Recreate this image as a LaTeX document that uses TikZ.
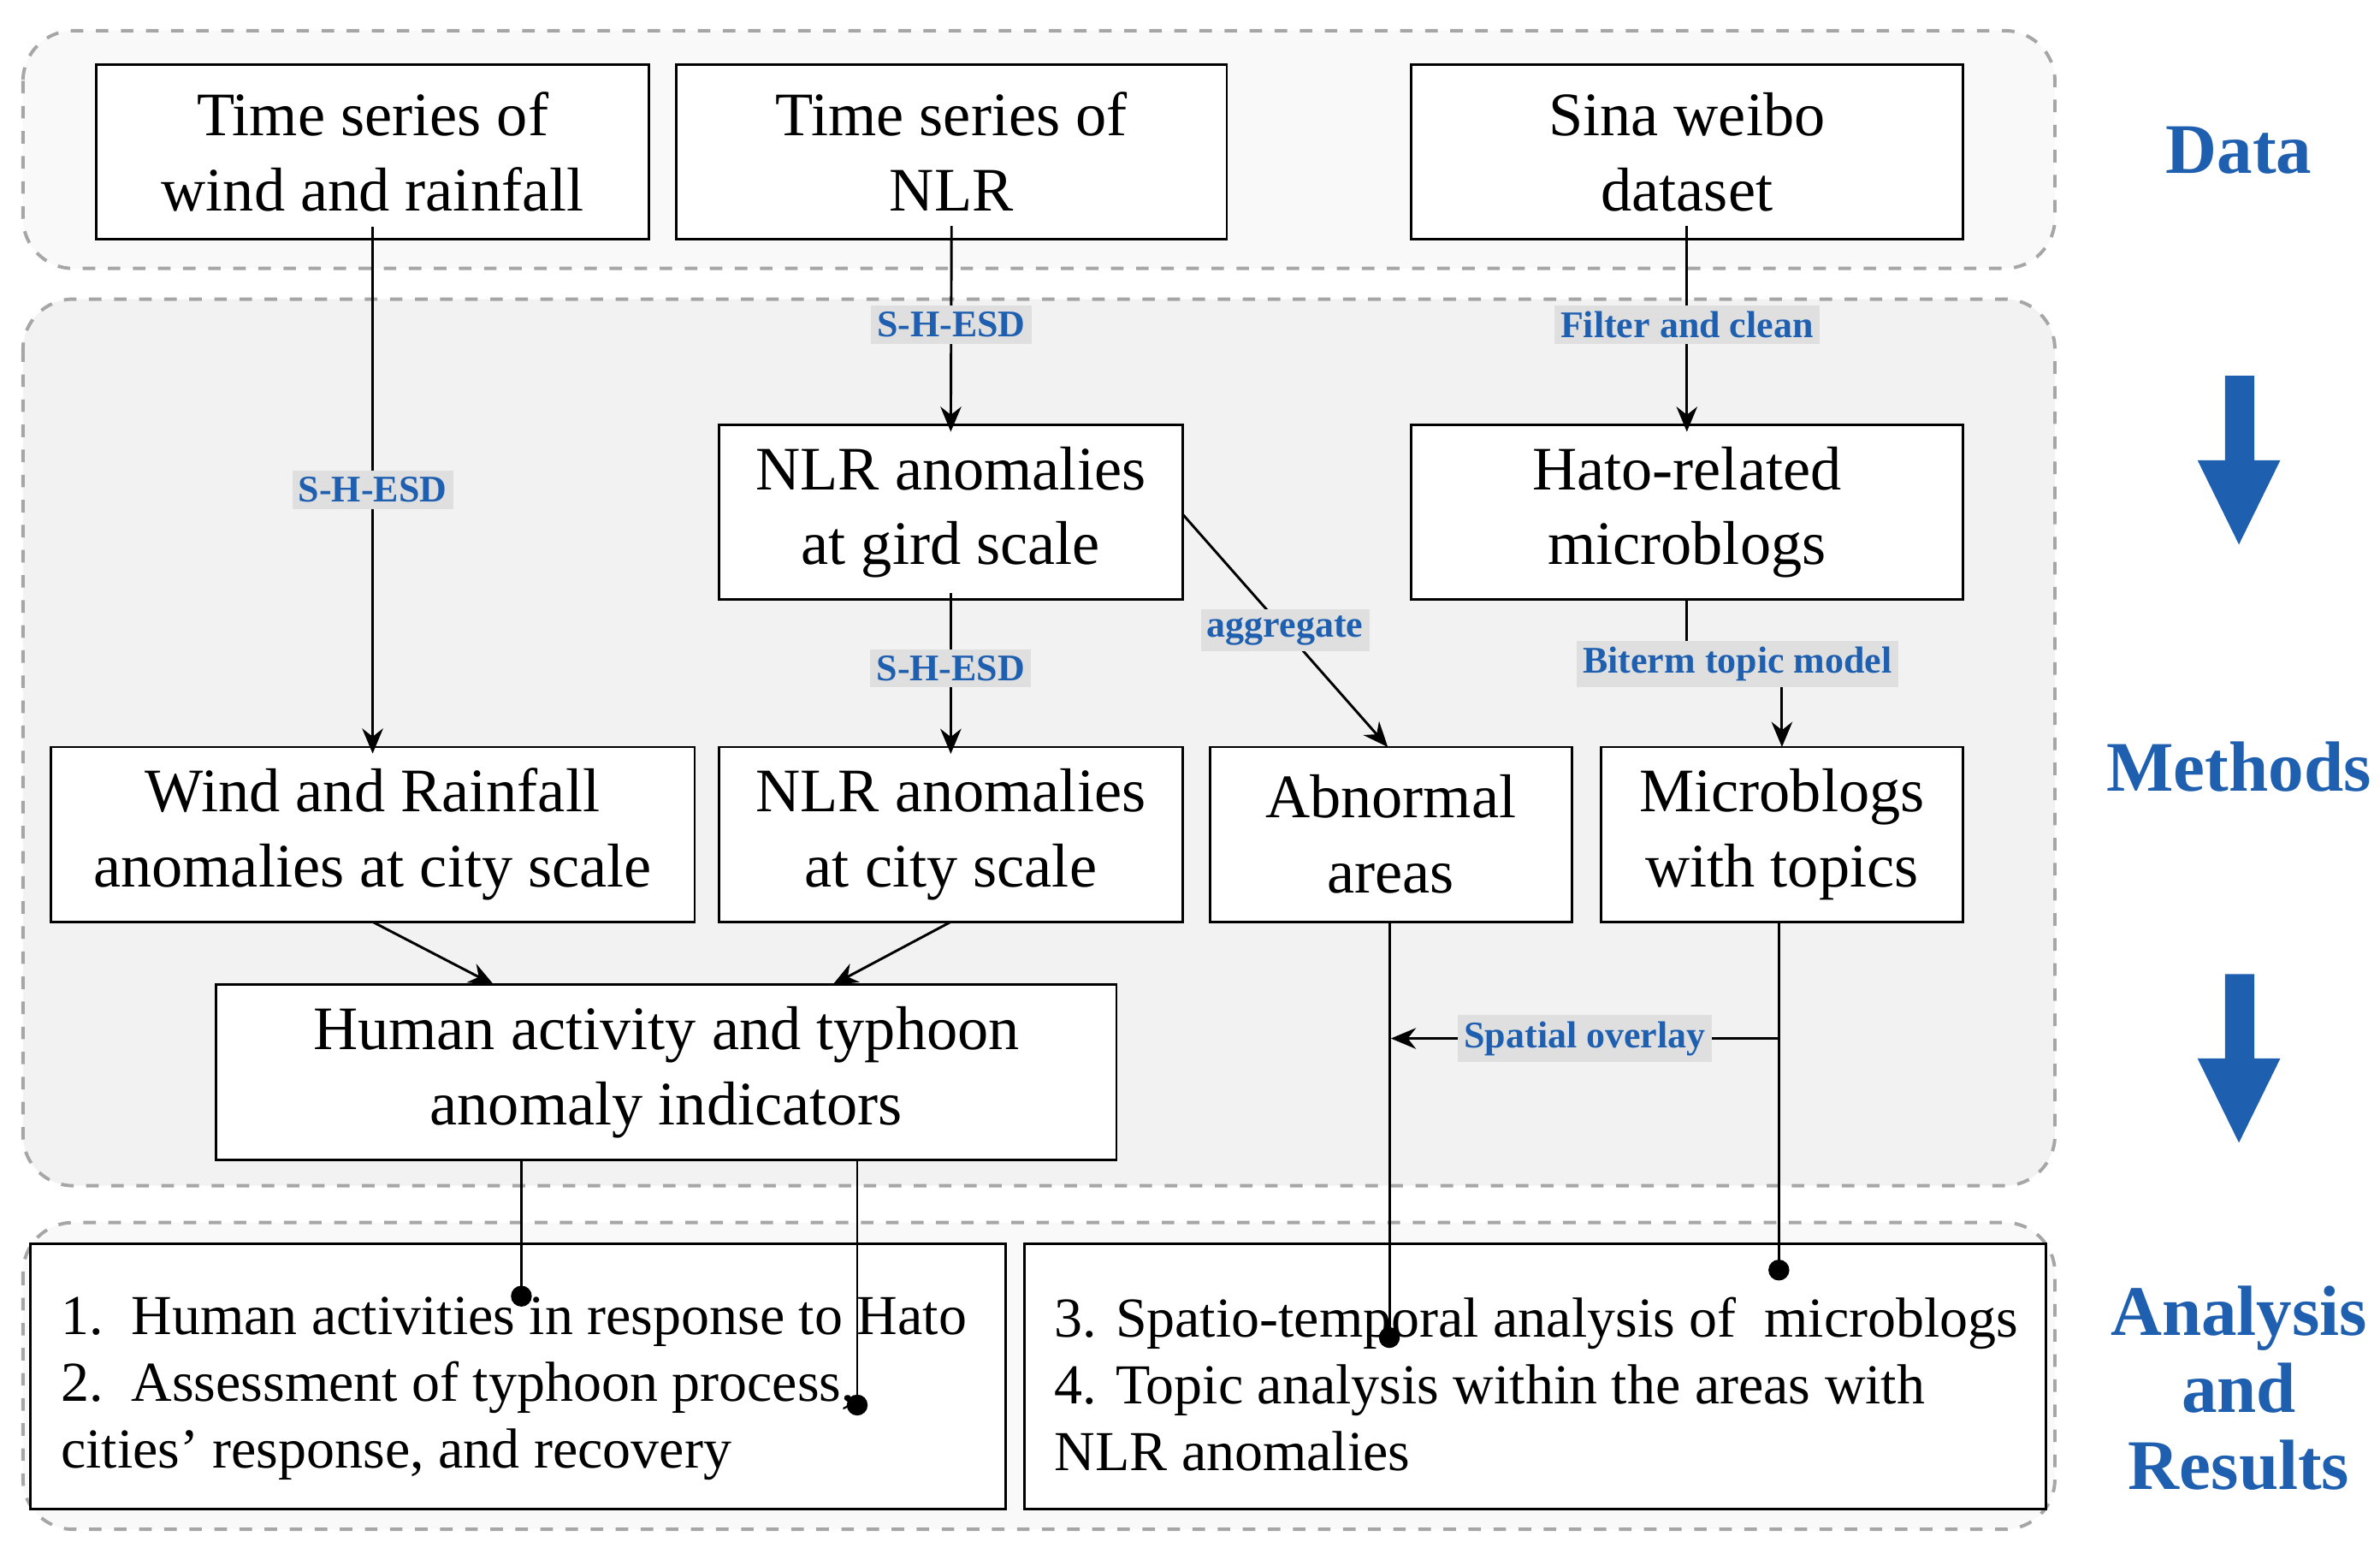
\documentclass[tikz,border=0pt]{standalone}
\usepackage{fontspec}
\setmainfont{Liberation Serif}
\usetikzlibrary{arrows.meta}
\definecolor{myblue}{HTML}{1F5FB0}
\begin{document}
\begin{tikzpicture}[x=0.0129cm,y=-0.0129cm,
 grp/.style={draw=gray!70,dashed,line width=0.8pt,rounded corners=12pt},
 box/.style={draw,line width=0.6pt,fill=white},
 tx/.style={align=center,font=\fontsize{14.8}{18}\selectfont},
 lab/.style={fill=gray!25,text=myblue,font=\bfseries\fontsize{9}{11}\selectfont,inner sep=1.5pt},
 ar/.style={-{Stealth[length=6pt,width=5pt]},line width=0.6pt},
 ln/.style={line width=0.6pt},
 dot/.style={circle,fill,inner sep=0pt,minimum size=5pt},
 side/.style={text=myblue,font=\bfseries\fontsize{17}{18.5}\selectfont,align=center},
 big/.style={fill=myblue,draw=none}]
\useasboundingbox (0,0) rectangle (1552,1005);
\draw[grp,fill=gray!5] (15,20) rectangle (1340,175);
\draw[grp,fill=gray!10] (15,195) rectangle (1340,773);
\draw[grp,fill=gray!5] (15,797) rectangle (1340,997);
\newcommand{\bx}[6]{\draw[box] (#2,#3) rectangle (#4,#5); \node[tx] (#1) at ({(#2+#4)/2},{(#3+#5)/2}) {#6};}
\bx{A}{63}{42}{423}{156}{Time series of\\wind and rainfall}
\bx{B}{441}{42}{800}{156}{Time series of\\NLR}
\bx{C}{920}{42}{1280}{156}{Sina weibo\\dataset}
\bx{D}{469}{277}{771}{391}{NLR anomalies\\at gird scale}
\bx{E}{920}{277}{1280}{391}{Hato-related\\microblogs}
\bx{F}{33}{487}{453}{601}{Wind and Rainfall\\anomalies at city scale}
\bx{G}{469}{487}{771}{601}{NLR anomalies\\at city scale}
\bx{H}{789}{487}{1025}{601}{Abnormal\\areas}
\bx{I}{1044}{487}{1280}{601}{Microblogs\\with topics}
\bx{J}{141}{642}{728}{756}{Human activity and typhoon\\anomaly indicators}
\draw[box] (20,811) rectangle (656,984);
\draw[box] (668,811) rectangle (1334,984);
\node[align=left,anchor=north west,font=\fontsize{13.5}{16}\selectfont] (K) at (30,836) {1.\ \ Human activities in response to Hato\\2.\ \ Assessment of typhoon process,\\cities' response, and recovery};
\node[align=left,anchor=north west,font=\fontsize{13.5}{16}\selectfont] (L) at (678,836) {3. Spatio-temporal analysis of\ \ microblogs\\4. Topic analysis within the areas with\\NLR anomalies};
% connectors
\draw[ar] (A.south) -- node[lab,pos=0.5]{S-H-ESD} (F.north);
\draw[ar] (B.south) -- node[lab,pos=0.48]{S-H-ESD} (D.north);
\draw[ar] (C.south) -- node[lab,pos=0.48]{Filter and clean} (E.north);
\draw[ar] (D.south) -- node[lab,pos=0.47]{S-H-ESD} (G.north);
\draw[ar] (771,335) -- node[lab,pos=0.5]{aggregate} (905,487);
\draw[ln] (1100,391) -- (1100,433) -- (1162,433);
\draw[ar] (1162,433) -- (1162,487);
\node[lab] at (1133,433) {Biterm topic model};
\draw[ar] (243,601) -- (322,642);
\draw[ar] (620,601) -- (543,642);
\draw[ln] (1160,601) -- (1160,828) node[dot]{};
\draw[ar] (1160,677) -- node[lab]{Spatial overlay} (907,677);
\draw[ln] (906,601) -- (906,872) node[dot]{};
\draw[ln] (340,756) -- (340,845) node[dot]{};
\draw[ln] (559,756) -- (559,916) node[dot]{};
% side labels
\node[side] at (1460,98) {Data};
\node[side] at (1460,500) {Methods};
\node[side] at (1460,905) {Analysis\\and\\Results};
\fill[big] (1451,245) -- (1470,245) -- (1470,300) -- (1487,300) -- (1460,355) -- (1433,300) -- (1451,300) -- cycle;
\fill[big] (1451,635) -- (1470,635) -- (1470,690) -- (1487,690) -- (1460,745) -- (1433,690) -- (1451,690) -- cycle;
\end{tikzpicture}
\end{document}
